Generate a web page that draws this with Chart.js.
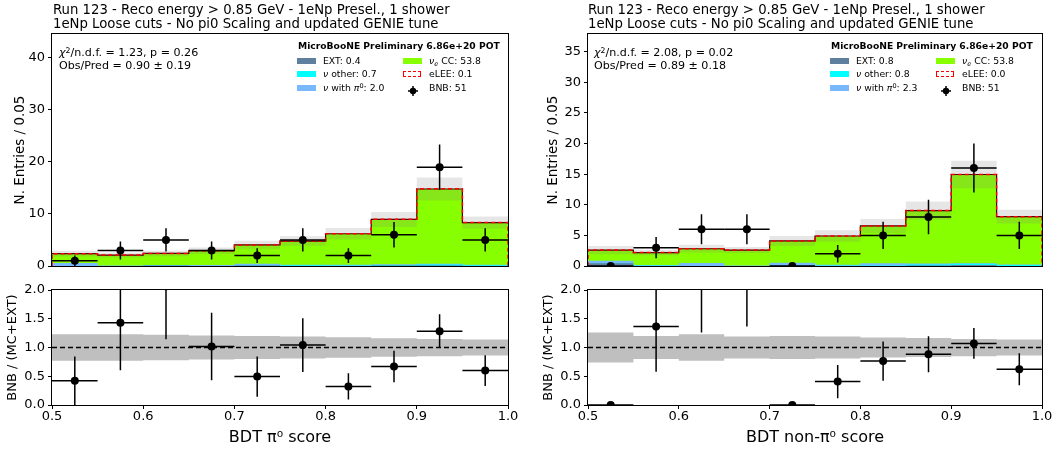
<!DOCTYPE html>
<html>
<head>
<meta charset="utf-8">
<script src="https://cdn.jsdelivr.net/npm/chart.js@4.4.0/dist/chart.umd.min.js"></script>
<style>
  body { margin: 0; background: #fff; font-family: 'DejaVu Sans', sans-serif; color: #000; }
  #fig { position: relative; width: 1058px; height: 451px; overflow: hidden; }
  #fig canvas { position: absolute; }
  .txt { position: absolute; white-space: nowrap; }
  .sup { font-size: 70%; position: relative; top: -0.45em; }
  .sub { font-size: 70%; position: relative; top: 0.3em; }
  .patch { position: absolute; width: 19px; height: 6px; }
  .lee { position: absolute; width: 16px; height: 4px; border: 1.5px dashed #ff0000; background: #fff; }
</style>
</head>
<body>
<div id="fig">
  <canvas id="mainL" width="520" height="278" style="left:0;top:0"></canvas>
  <canvas id="ratioL" width="520" height="181" style="left:0;top:270px"></canvas>
  <canvas id="mainR" width="528" height="278" style="left:530px;top:0"></canvas>
  <canvas id="ratioR" width="528" height="181" style="left:530px;top:270px"></canvas>
</div>
<script>
/* Run 123 BDT score distributions: stacked MC + EXT vs BNB data, with ratio panels */

const binEdges   = [0.5, 0.55, 0.6, 0.65, 0.7, 0.75, 0.8, 0.85, 0.9, 0.95, 1.0];
const binCenters = [0.525, 0.575, 0.625, 0.675, 0.725, 0.775, 0.825, 0.875, 0.925, 0.975];
const xTicks     = [0.5, 0.6, 0.7, 0.8, 0.9, 1.0];
const ratioTicks = [0, 0.5, 1.0, 1.5, 2.0];

// left: BDT pi0 score
const pi0Ext    = [0.0, 0.0, 0.1, 0.0, 0.1, 0.0, 0.0, 0.1, 0.1, 0.0];
const pi0Other  = [0.0, 0.0, 0.0, 0.0, 0.0, 0.15, 0.1, 0.1, 0.2, 0.15];
const pi0Pi0    = [0.6, 0.1, 0.1, 0.2, 0.35, 0.1, 0.15, 0.15, 0.15, 0.1];
const pi0Nue    = [1.77, 2.0, 2.22, 2.75, 3.6, 4.55, 5.95, 8.6, 14.35, 8.1];
const pi0Lee    = [0, 0, 0, 0, 0, 0, 0, 0.03, 0.05, 0.02];
const pi0Bnb    = [1, 3, 5, 3, 2, 5, 2, 6, 19, 5];
const pi0RelErr = [0.23, 0.23, 0.22, 0.21, 0.20, 0.19, 0.18, 0.16, 0.15, 0.14];
const pi0YTicks = [0, 10, 20, 30, 40];

// right: BDT non-pi0 score
const npExt    = [0.45, 0.0, 0.0, 0.0, 0.1, 0.0, 0.0, 0.1, 0.15, 0.0];
const npOther  = [0.0, 0.1, 0.0, 0.0, 0.0, 0.1, 0.1, 0.15, 0.2, 0.15];
const npPi0    = [0.4, 0.05, 0.5, 0.1, 0.45, 0.1, 0.35, 0.15, 0.1, 0.1];
const npNue    = [1.75, 2.05, 2.32, 2.5, 3.55, 4.7, 6.1, 8.65, 14.5, 7.8];
const npLee    = [0, 0, 0, 0, 0, 0, 0, 0, 0, 0];
const npBnb    = [0, 3, 6, 6, 0, 2, 5, 8, 16, 5];
const npRelErr = [0.26, 0.20, 0.23, 0.19, 0.20, 0.19, 0.175, 0.165, 0.15, 0.14];
const npYTicks = [0, 5, 10, 15, 20, 25, 30, 35];

const COLORS = {
    ext: '#5f7f9f',
    other: '#00ffff',
    pi0: '#78b8ff',
    nue: '#88ff00',
    band: 'rgba(128, 128, 128, 0.2)',
    ratioBand: 'rgba(128, 128, 128, 0.5)',
};

Chart.defaults.font.family = "'DejaVu Sans', sans-serif";
Chart.defaults.color = '#000';

// error bars drawn under the markers, clipped to the axes
const errorBarPlugin = {
    id: 'errorBars',
    beforeDatasetDraw(chart, args) {
        const ds = chart.data.datasets[args.index];
        if (!ds.errorBars) return;
        const { ctx, chartArea: a, scales: { x, y } } = chart;
        ctx.save();
        ctx.beginPath();
        ctx.rect(a.left, a.top, a.right - a.left, a.bottom - a.top);
        ctx.clip();
        ctx.strokeStyle = '#000';
        ctx.lineWidth = 1.5;
        ds.data.forEach(d => {
            const px = x.getPixelForValue(d.x);
            const py = y.getPixelForValue(d.y);
            ctx.beginPath();
            ctx.moveTo(x.getPixelForValue(d.x - d.xerr), py);
            ctx.lineTo(x.getPixelForValue(d.x + d.xerr), py);
            if (d.yerr > 0) {
                ctx.moveTo(px, y.getPixelForValue(d.y - d.yerr));
                ctx.lineTo(px, y.getPixelForValue(d.y + d.yerr));
            }
            ctx.stroke();
        });
        ctx.restore();
    }
};

// matplotlib style box around the axes
const framePlugin = {
    id: 'frame',
    afterDraw(chart) {
        const { ctx, chartArea: a } = chart;
        ctx.save();
        ctx.strokeStyle = '#000';
        ctx.lineWidth = 1;
        ctx.strokeRect(a.left - 0.5, a.top - 0.5, a.right - a.left + 1, a.bottom - a.top + 1);
        ctx.restore();
    }
};

function stepPoints(vals) {
    const pts = vals.map((v, i) => ({ x: binEdges[i], y: v }));
    pts.push({ x: binEdges[binEdges.length - 1], y: vals[vals.length - 1] });
    return pts;
}

function cumulative(layers) {
    let run = layers[0].map(() => 0);
    return layers.map(l => (run = run.map((v, i) => v + l[i])));
}

function stepLine(vals, extra) {
    return Object.assign({
        type: 'line', data: stepPoints(vals), stepped: true,
        pointRadius: 0, borderWidth: 0, fill: false, tension: 0,
    }, extra);
}

function yScale(min, max, ticks, title, titleSize, titlePad, width, fmt) {
    return {
        type: 'linear', min, max,
        afterBuildTicks: s => { s.ticks = ticks.map(v => ({ value: v })); },
        afterFit: s => { s.width = width; },
        border: { display: false },
        grid: { drawOnChartArea: false, drawTicks: true, tickLength: 4, tickColor: '#000', tickWidth: 1 },
        ticks: { color: '#000', font: { size: 13 }, padding: 3, callback: fmt },
        title: { display: true, text: title, color: '#000', font: { size: titleSize }, padding: { top: titlePad, bottom: 0 } },
    };
}

function makeChart(id, datasets, scales, padding) {
    return new Chart(document.getElementById(id), {
        type: 'line',
        data: { datasets },
        options: {
            responsive: false,
            animation: false,
            devicePixelRatio: 1,
            layout: { padding },
            plugins: { legend: { display: false }, tooltip: { enabled: false } },
            scales,
        },
        plugins: [errorBarPlugin, framePlugin],
    });
}

function buildMain(id, p) {
    const cum = cumulative([p.ext, p.other, p.pi0, p.nue]);
    const total = cum[3];
    const withLee = total.map((v, i) => v + p.lee[i]);
    const hi = total.map((v, i) => v * (1 + p.err[i]));
    const lo = total.map((v, i) => v * (1 - p.err[i]));
    const fills = [COLORS.ext, COLORS.other, COLORS.pi0, COLORS.nue];

    const leePts = [{ x: binEdges[0], y: 0 }, ...stepPoints(withLee), { x: binEdges[binEdges.length - 1], y: 0 }];

    const datasets = [
        {
            type: 'scatter', data: binCenters.map((x, i) => ({ x, y: p.bnb[i], xerr: 0.025, yerr: Math.sqrt(p.bnb[i]) })),
            errorBars: true, pointRadius: 4, pointHoverRadius: 4, backgroundColor: '#000', borderColor: '#000', borderWidth: 0, order: 0, clip: 0,
        },
        Object.assign(stepLine(withLee, { borderColor: '#ff0000', borderWidth: 1.5, borderDash: [4, 3], order: 1 }), { data: leePts }),
        stepLine(total, { borderColor: '#3a0000', borderWidth: 1.2, order: 2 }),
        stepLine(hi, { fill: '+1', backgroundColor: COLORS.band, order: 3 }),
        stepLine(lo, { order: 3 }),
    ];
    cum.forEach((c, i) => datasets.push(stepLine(c, { fill: 'origin', backgroundColor: fills[i], order: 4 + i })));

    return makeChart(id, datasets, {
        x: {
            type: 'linear', min: 0.5, max: 1.0,
            afterFit: s => { s.height = 12; },
            ticks: { display: false }, grid: { display: false }, border: { display: false },
        },
        y: yScale(0, p.ymax, p.yticks, 'N. Entries / 0.05', 13.5, p.titlePad, p.yWidth),
    }, { top: 34, left: 0, right: p.right, bottom: 0 });
}

function buildRatio(id, p) {
    const total = cumulative([p.ext, p.other, p.pi0, p.nue])[3];
    const datasets = [
        {
            type: 'scatter', data: binCenters.map((x, i) => ({ x, y: p.bnb[i] / total[i], xerr: 0.025, yerr: Math.sqrt(p.bnb[i]) / total[i] })),
            errorBars: true, pointRadius: 4, pointHoverRadius: 4, backgroundColor: '#000', borderColor: '#000', borderWidth: 0, order: 0, clip: 0,
        },
        { type: 'line', data: [{ x: 0.5, y: 1 }, { x: 1.0, y: 1 }], borderColor: '#000', borderWidth: 1.3, borderDash: [5, 3], pointRadius: 0, fill: false, order: 1 },
        stepLine(p.err.map(e => 1 + e), { fill: '+1', backgroundColor: COLORS.ratioBand, order: 3 }),
        stepLine(p.err.map(e => 1 - e), { order: 3 }),
    ];
    return makeChart(id, datasets, {
        x: {
            type: 'linear', min: 0.5, max: 1.0,
            afterBuildTicks: s => { s.ticks = xTicks.map(v => ({ value: v })); },
            afterFit: s => { s.height = 46; },
            border: { display: false },
            grid: { drawOnChartArea: false, drawTicks: true, tickLength: 4, tickColor: '#000' },
            ticks: { font: { size: 13 }, padding: 0, maxRotation: 0, autoSkip: false, callback: v => v.toFixed(1) },
            title: { display: true, text: p.xlabel, font: { size: 16 }, padding: { top: 0, bottom: 4 } },
        },
        y: yScale(0, 2, ratioTicks, 'BNB / (MC+EXT)', 13, p.ratioTitlePad, p.yWidth, v => v.toFixed(1)),
    }, { top: 20, left: 0, right: p.right, bottom: 0 });
}

const leftPanel = {
    ext: pi0Ext, other: pi0Other, pi0: pi0Pi0, nue: pi0Nue, lee: pi0Lee, bnb: pi0Bnb, err: pi0RelErr,
    ymax: 44.6, yticks: pi0YTicks, yWidth: 52, right: 12, titlePad: 12, ratioTitlePad: 5,
    xlabel: 'BDT π⁰ score',
};
const rightPanel = {
    ext: npExt, other: npOther, pi0: npPi0, nue: npNue, lee: npLee, bnb: npBnb, err: npRelErr,
    ymax: 37.9, yticks: npYTicks, yWidth: 58, right: 16, titlePad: 15, ratioTitlePad: 11,
    xlabel: 'BDT non-π⁰ score',
};

buildMain('mainL', leftPanel);
buildRatio('ratioL', leftPanel);
buildMain('mainR', rightPanel);
buildRatio('ratioR', rightPanel);

// ---- text overlays (titles, fit stats, legend) ----
const fig = document.getElementById('fig');

function addText(x, yc, html, size, bold) {
    const d = document.createElement('div');
    d.className = 'txt';
    d.style.left = x + 'px';
    d.style.top = (yc - size * 0.6) + 'px';
    d.style.fontSize = size + 'px';
    d.style.lineHeight = (size * 1.2) + 'px';
    if (bold) d.style.fontWeight = 'bold';
    d.innerHTML = html;
    fig.appendChild(d);
}

function addBox(x, yc, cls, color) {
    const d = document.createElement('div');
    d.className = cls;
    d.style.left = x + 'px';
    d.style.top = (yc - 3) + 'px';
    if (color) d.style.background = color;
    fig.appendChild(d);
}

function addMarker(x, yc) {
    const d = document.createElement('div');
    d.style.position = 'absolute';
    d.style.left = (x - 6) + 'px';
    d.style.top = (yc - 6) + 'px';
    d.innerHTML = '<svg width="12" height="12"><line x1="1" y1="6" x2="11" y2="6" stroke="#000" stroke-width="1.5"/>' +
        '<line x1="6" y1="1" x2="6" y2="11" stroke="#000" stroke-width="1.5"/><circle cx="6" cy="6" r="3.2" fill="#000"/></svg>';
    fig.appendChild(d);
}

const NU = '<i>ν</i>';
const titleLine1 = 'Run 123 - Reco energy &gt; 0.85 GeV - 1eNp Presel., 1 shower';
const titleLine2 = '1eNp Loose cuts - No pi0 Scaling and updated GENIE tune';
const legendTitle = 'MicroBooNE Preliminary 6.86e+20 POT';

function addPanelText(o) {
    addText(o.titleX, 10, titleLine1, 13.25);
    addText(o.titleX, 24, titleLine2, 13.25);
    addText(o.statX, 53, '<i>χ</i><span class="sup">2</span>/n.d.f. = ' + o.chi2, 11.1);
    addText(o.statX, 66, 'Obs/Pred = ' + o.obsPred, 11.1);

    addText(o.legX + 1, 46, legendTitle, 9.2, true);
    const rows = [61, 74, 88];
    addBox(o.legX, rows[0], 'patch', COLORS.ext);
    addText(o.legX + 26, rows[0], 'EXT: ' + o.leg[0], 9.3);
    addBox(o.legX, rows[1], 'patch', COLORS.other);
    addText(o.legX + 26, rows[1], NU + ' other: ' + o.leg[1], 9.3);
    addBox(o.legX, rows[2], 'patch', COLORS.pi0);
    addText(o.legX + 26, rows[2], NU + ' with <i>π</i><span class="sup">0</span>: ' + o.leg[2], 9.3);

    const c2 = o.legX + 106;
    addBox(c2, rows[0], 'patch', COLORS.nue);
    addText(c2 + 26, rows[0], NU + '<span class="sub"><i>e</i></span> CC: ' + o.leg[3], 9.3);
    addBox(c2, rows[1], 'lee');
    addText(c2 + 26, rows[1], 'eLEE: ' + o.leg[4], 9.3);
    addMarker(c2 + 10, rows[2]);
    addText(c2 + 26, rows[2], 'BNB: ' + o.leg[5], 9.3);
}

addPanelText({ titleX: 53, statX: 59, legX: 297, chi2: '1.23, p = 0.26', obsPred: '0.90 ± 0.19',
    leg: ['0.4', '0.7', '2.0', '53.8', '0.1', '51'] });
addPanelText({ titleX: 588, statX: 594, legX: 830, chi2: '2.08, p = 0.02', obsPred: '0.89 ± 0.18',
    leg: ['0.8', '0.8', '2.3', '53.8', '0.0', '51'] });
</script>
</body>
</html>
